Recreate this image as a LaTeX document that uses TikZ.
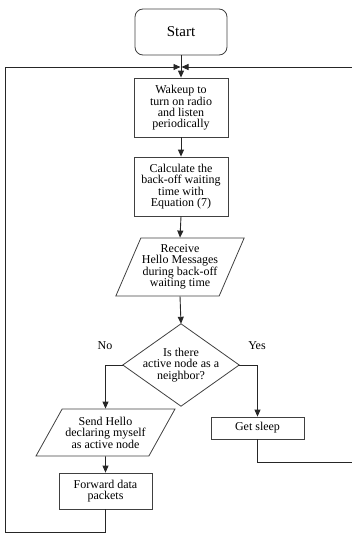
\documentclass[tikz,border=0pt]{standalone}
\usepackage{fontspec}
\setmainfont{Liberation Serif}
\usetikzlibrary{arrows.meta,shapes.geometric}
\tikzset{
  box/.style={draw=black!75, line width=0.8pt, align=center, inner sep=1pt,
    font=\fontsize{12}{11.5}\selectfont},
  para/.style={box, trapezium, trapezium stretches body},
  arr/.style={draw=black!85, line width=0.9pt, -{Triangle[length=7pt,width=6pt]}},
  line/.style={draw=black!85, line width=0.9pt},
  lbl/.style={font=\fontsize{12}{12}\selectfont}
}
\begin{document}
\begin{tikzpicture}[x=1pt,y=-1pt]
\useasboundingbox (0,0) rectangle (351,533);
\node[box, rounded corners=8pt, minimum width=92, minimum height=46,
  font=\fontsize{15}{15}\selectfont] (start) at (181,32) {Start};
\node[box, minimum width=94, minimum height=59,
  font=\fontsize{12}{10.8}\selectfont] (wake) at (181,107.5)
  {Wakeup to\\turn on radio\\and listen\\periodically};
\node[box, minimum width=94, minimum height=59] (calc) at (181,186.5)
  {Calculate the\\back-off waiting\\time with\\Equation (7)};
\node[para, trapezium left angle=62, trapezium right angle=118,
  minimum width=128, minimum height=58] (recv) at (180,267)
  {Receive\\Hello Messages\\during back-off\\waiting time};
\node[align=center, font=\fontsize{12}{11.5}\selectfont,
  minimum width=116, minimum height=82, inner sep=0pt] (dec) at (181,365)
  {Is there\\active node as a\\neighbor?};
\draw[black!75, line width=0.8pt] (dec.north) -- (dec.east) -- (dec.south) -- (dec.west) -- cycle;
\node[para, trapezium left angle=52, trapezium right angle=128,
  minimum width=139, minimum height=47] (send) at (105.5,432.5)
  {Send Hello\\declaring myself\\as active node};
\node[box, minimum width=93, minimum height=36] (fwd) at (105.5,491)
  {Forward data\\packets};
\node[box, minimum width=93, minimum height=22] (sleep) at (257.5,428)
  {Get sleep};
\node[lbl] (no) at (105,346) {No};
\node[lbl] (yes) at (257,346) {Yes};

\coordinate (j) at (181,67);
\coordinate (tl) at (5.5,67);
\coordinate (bl) at (5.5,532);
\coordinate (tr) at (353,67);
\coordinate (br) at (353,462);

\draw[arr] (start.south) -- (wake.north);
\draw[arr] (wake.south) -- (calc.north);
\draw[arr] (calc.south) -- (recv.north);
\draw[arr] (recv.south) -- (dec.north);
\draw[arr] (dec.west) -| (send.north);
\draw[arr] (dec.east) -| (sleep.north);
\draw[arr] (send.south) -- (fwd.north);
\draw[line] (fwd.south) |- (bl) -- (tl);
\draw[arr] (tl) -- ([xshift=-0.5pt]j);
\draw[line] (sleep.south) |- (br) -- (tr);
\draw[arr] (tr) -- ([xshift=0.5pt]j);
\end{tikzpicture}
\end{document}
